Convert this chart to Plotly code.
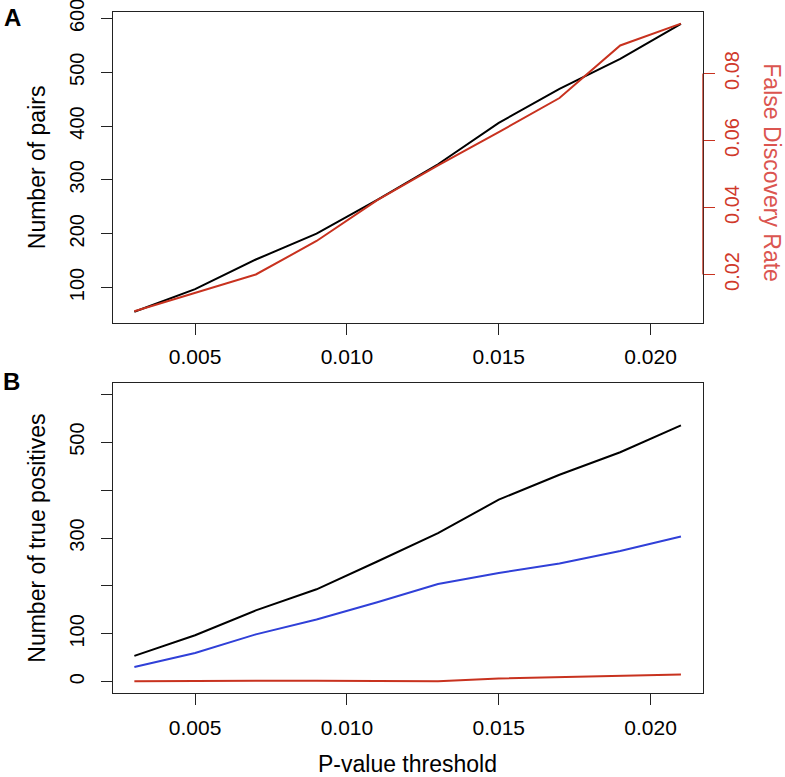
import plotly.graph_objects as go

# ---- data ----
p_threshold = [0.003, 0.005, 0.007, 0.009, 0.011, 0.013, 0.015, 0.017, 0.019, 0.021]
n_pairs = [55, 97, 152, 200, 263, 329, 406, 469, 525, 590]
fdr = [0.0090, 0.0145, 0.0200, 0.0300, 0.0422, 0.0526, 0.0625, 0.0727, 0.0884, 0.0949]
tp_total = [54, 97, 149, 193, 251, 310, 380, 432, 479, 535]
tp_blue = [31, 60, 99, 130, 166, 204, 227, 247, 273, 303]
tp_red = [1, 2, 2, 2, 2, 1, 7, 10, 12, 15]

x_ticks = [0.005, 0.010, 0.015, 0.020]
x_ticklabels = ["0.005", "0.010", "0.015", "0.020"]
pairs_ticks = [100, 200, 300, 400, 500, 600]
fdr_ticks = [0.02, 0.04, 0.06, 0.08]
fdr_ticklabels = ["0.02", "0.04", "0.06", "0.08"]
tp_ticks = [0, 100, 200, 300, 400, 500, 600]
tp_ticklabels = ["0", "100", "", "300", "", "500", ""]

W, H = 785, 777
FONT = "Liberation Sans, Arial, Helvetica, sans-serif"
RED = "#C8321F"
RED_TXT = "#D0392B"
RED_TITLE = "#DB5550"
BLUE = "#3040D8"

def px_x(p):
    return p / W

def px_y(p):
    return 1 - p / H

xdom = [px_x(112.5), px_x(702.8)]
top_dom = [px_y(322.7), px_y(12.3)]
bot_dom = [px_y(693.3), px_y(382.7)]
xrange = [0.00228, 0.02172]

fig = go.Figure()
fig.add_trace(go.Scatter(x=p_threshold, y=n_pairs, mode="lines",
                         line=dict(color="black", width=2), xaxis="x", yaxis="y"))
fig.add_trace(go.Scatter(x=p_threshold, y=fdr, mode="lines",
                         line=dict(color=RED, width=2), xaxis="x", yaxis="y2"))
fig.add_trace(go.Scatter(x=p_threshold, y=tp_total, mode="lines",
                         line=dict(color="black", width=2), xaxis="x2", yaxis="y3"))
fig.add_trace(go.Scatter(x=p_threshold, y=tp_blue, mode="lines",
                         line=dict(color=BLUE, width=2), xaxis="x2", yaxis="y3"))
fig.add_trace(go.Scatter(x=p_threshold, y=tp_red, mode="lines",
                         line=dict(color=RED, width=2), xaxis="x2", yaxis="y3"))

xtickfont = dict(family=FONT, size=21, color="black")
ytickfont = dict(family=FONT, size=20, color="black")
common_x = dict(range=xrange, tickvals=x_ticks, ticktext=x_ticklabels,
                ticks="outside", ticklen=11, tickcolor="#222", tickwidth=1,
                showline=True, linecolor="#222", linewidth=1, mirror=True,
                showgrid=False, zeroline=False, tickfont=xtickfont, domain=xdom,
                ticklabelstandoff=4, automargin=False, ticklabeloverflow="allow")

fig.update_layout(
    width=W, height=H, margin=dict(l=0, r=0, t=0, b=0, autoexpand=False),
    paper_bgcolor="white", plot_bgcolor="white", showlegend=False,
    xaxis=dict(anchor="y", **common_x),
    yaxis=dict(domain=top_dom, range=[34.6, 611.4], tickvals=pairs_ticks,
               ticks="outside", ticklen=11, tickcolor="#222", tickwidth=1,
               showline=True, linecolor="#222", linewidth=1, mirror=True,
               showgrid=False, zeroline=False, tickfont=ytickfont,
               tickangle=-90, ticklabelstandoff=9, anchor="x", automargin=False,
               ticklabeloverflow="allow"),
    yaxis2=dict(overlaying="y", side="right", range=[0.0056, 0.0983],
                tickvals=fdr_ticks, ticktext=fdr_ticklabels,
                ticks="outside", ticklen=11, tickcolor=RED, tickwidth=1,
                showline=False, showgrid=False, zeroline=False,
                tickfont=dict(family=FONT, size=20, color=RED_TXT),
                tickangle=-90, ticklabelstandoff=0, anchor="x", automargin=False,
                ticklabeloverflow="allow"),
    xaxis2=dict(anchor="y3", **common_x),
    yaxis3=dict(domain=bot_dom, range=[-24, 624], tickvals=tp_ticks,
                ticktext=tp_ticklabels,
                ticks="outside", ticklen=11, tickcolor="#222", tickwidth=1,
                showline=True, linecolor="#222", linewidth=1, mirror=True,
                showgrid=False, zeroline=False, tickfont=ytickfont,
                tickangle=-90, ticklabelstandoff=9, anchor="x2", automargin=False,
                ticklabeloverflow="allow"),
)

# red right-hand axis line spanning the FDR ticks
fig.add_shape(type="line", xref="paper", yref="y2", x0=xdom[1], x1=xdom[1],
              y0=fdr_ticks[0], y1=fdr_ticks[-1], line=dict(color=RED, width=1))

titlefont = dict(family=FONT, size=23, color="black")
fig.add_annotation(text="Number of pairs", xref="paper", yref="paper",
                   x=px_x(36.7), y=px_y(167.5), textangle=-90, showarrow=False,
                   font=titlefont, xanchor="center", yanchor="middle")
fig.add_annotation(text="False Discovery Rate", xref="paper", yref="paper",
                   x=px_x(771.7), y=px_y(173), textangle=90, showarrow=False,
                   font=dict(family=FONT, size=23, color=RED_TITLE),
                   xanchor="center", yanchor="middle")
fig.add_annotation(text="Number of true positives", xref="paper", yref="paper",
                   x=px_x(36.7), y=px_y(538), textangle=-90, showarrow=False,
                   font=titlefont, xanchor="center", yanchor="middle")
fig.add_annotation(text="P-value threshold", xref="paper", yref="paper",
                   x=px_x(407.5), y=px_y(764), showarrow=False,
                   font=titlefont, xanchor="center", yanchor="middle")
fig.add_annotation(text="<b>A</b>", xref="paper", yref="paper",
                   x=px_x(12.5), y=px_y(17), showarrow=False,
                   font=dict(family=FONT, size=24, color="black"),
                   xanchor="center", yanchor="middle")
fig.add_annotation(text="<b>B</b>", xref="paper", yref="paper",
                   x=px_x(11), y=px_y(381), showarrow=False,
                   font=dict(family=FONT, size=24, color="black"),
                   xanchor="center", yanchor="middle")

fig.write_html("out.html", config={"displayModeBar": False},
               post_script="document.body.style.margin='0';document.body.style.padding='0';")
